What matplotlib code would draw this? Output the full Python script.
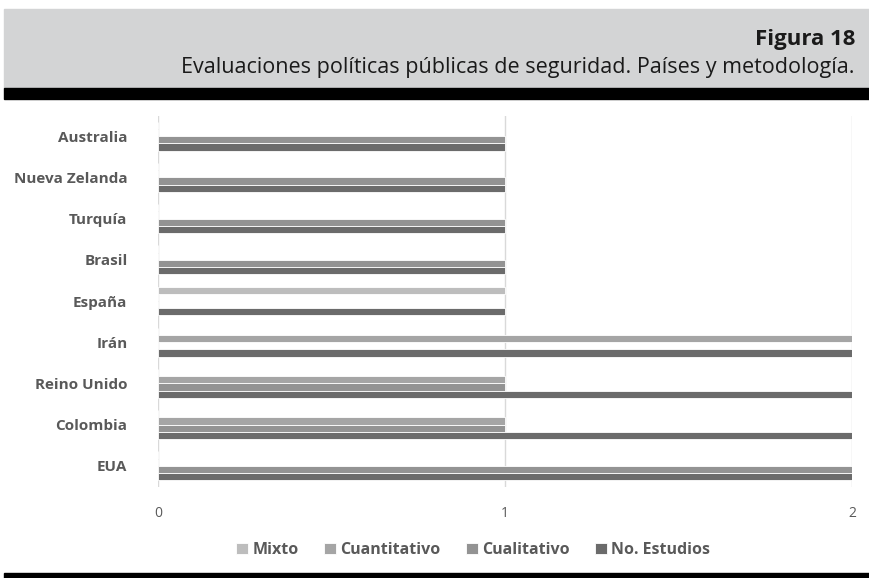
import numpy as np
import matplotlib.pyplot as plt
from matplotlib.patches import Rectangle

paises = ['Australia', 'Nueva Zelanda', 'Turquía', 'Brasil', 'España',
          'Irán', 'Reino Unido', 'Colombia', 'EUA']
mixto = [0, 0, 0, 0, 1, 0, 0, 0, 0]
cuantitativo = [0, 0, 0, 0, 0, 2, 1, 1, 0]
cualitativo = [1, 1, 1, 1, 0, 0, 1, 1, 2]
no_estudios = [1, 1, 1, 1, 1, 2, 2, 2, 2]

series = [('Mixto', mixto, '#bdbdbd'),
          ('Cuantitativo', cuantitativo, '#a5a5a5'),
          ('Cualitativo', cualitativo, '#939393'),
          ('No. Estudios', no_estudios, '#6b6b6b')]

plt.rcParams['font.family'] = ['Open Sans', 'DejaVu Sans']

fig = plt.figure(figsize=(8.7, 5.78), dpi=100)

# header band and rules
fig.patches.append(Rectangle((4/870, 1-88/578), 866/870, 79/578,
                             transform=fig.transFigure, color='#d3d4d5', zorder=0))
fig.patches.append(Rectangle((4/870, 1-99/578), 866/870, 11/578,
                             transform=fig.transFigure, color='#000000', zorder=1))
fig.patches.append(Rectangle((4/870, 0), 866/870, 5/578,
                             transform=fig.transFigure, color='#000000', zorder=1))
fig.text(855/870, 1-40/578, 'Figura 18', ha='right', va='center',
         fontsize=16, fontweight='bold', color='#1a1a1a')
fig.text(855/870, 1-68/578,
         'Evaluaciones políticas públicas de seguridad. Países y metodología.',
         ha='right', va='center', fontsize=15.5, color='#1a1a1a',
         family=['Liberation Sans Narrow', 'Open Sans'])

ax = fig.add_axes([158/870, 1-486.5/578, 694/870, 371/578])
y = np.arange(len(paises))
h = 0.175
for k, (name, vals, col) in enumerate(series):
    ax.barh(y + (k - 1.5) * h, vals, height=h, color=col,
            edgecolor='white', linewidth=0.6, label=name, zorder=3)

ax.set_ylim(len(paises) - 0.5, -0.5)
ax.set_xlim(0, 2)
ax.set_xticks([0, 1, 2])
ax.set_yticks(y)
ax.set_yticklabels(paises, fontsize=11, fontweight='bold', color='#595959')
ax.tick_params(axis='y', length=0, pad=22)
ax.tick_params(axis='x', length=0, pad=14, labelsize=10, labelcolor='#595959')
ax.grid(axis='x', color='#d9d9d9', linewidth=1, zorder=0)
for s in ax.spines.values():
    s.set_visible(False)

fig.legend(loc='center', bbox_to_anchor=(473/870, 1-550/578), ncol=4,
           frameon=False, handlelength=0.75, handleheight=0.75,
           handletextpad=0.25, columnspacing=1.6,
           prop={'weight': 'bold', 'size': 11.5})
for t in fig.legends[0].get_texts():
    t.set_color('#595959')

plt.savefig('out.png', dpi=100)
